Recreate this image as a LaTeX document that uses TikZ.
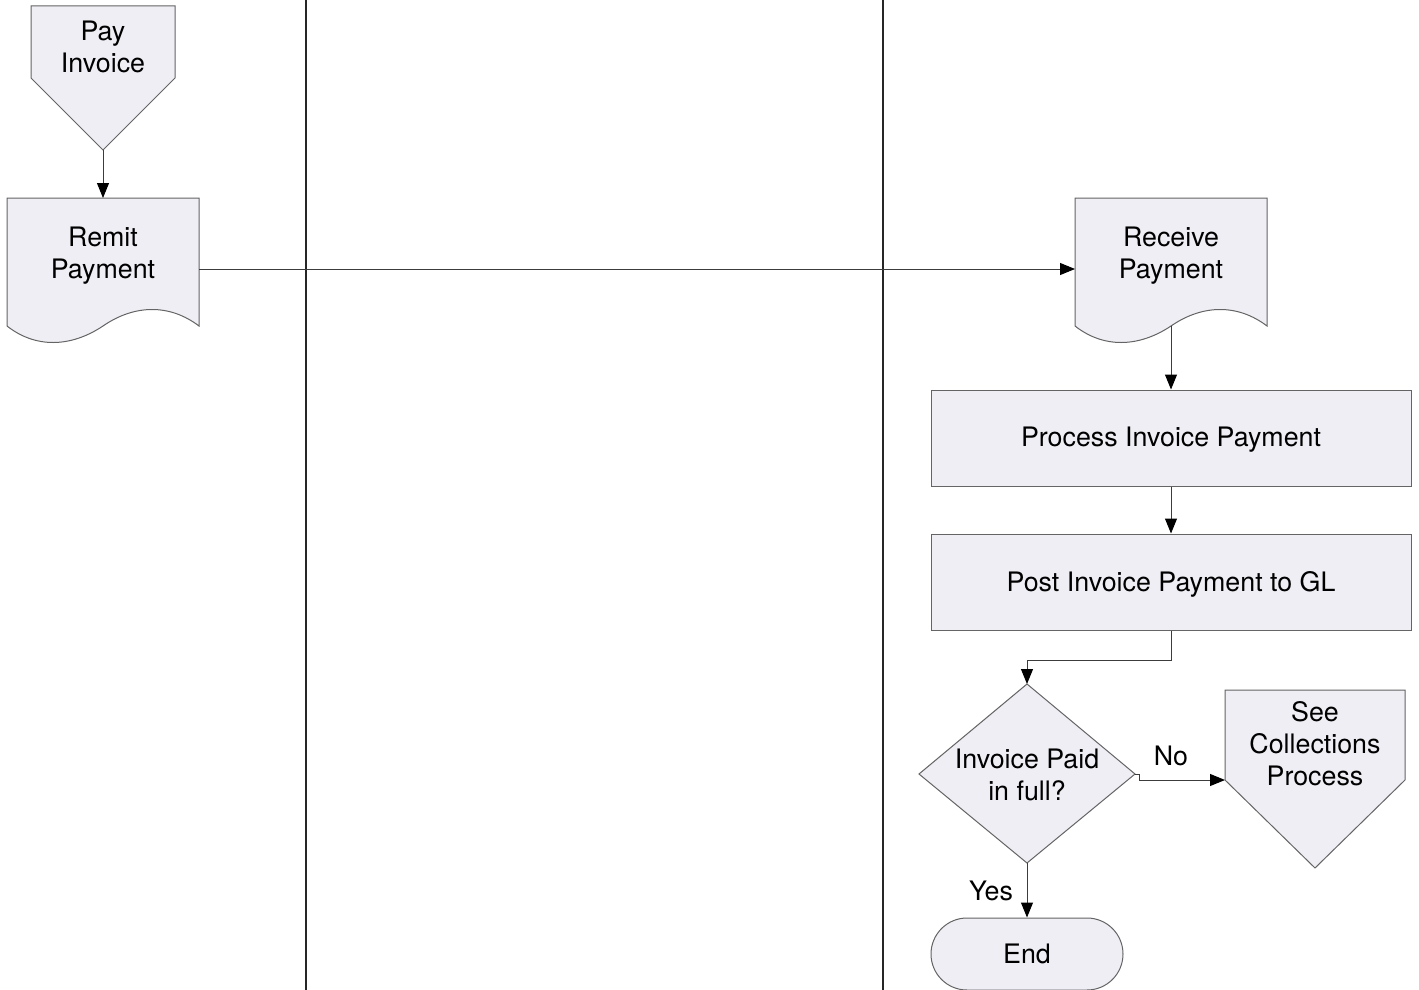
\documentclass[tikz,border=0pt]{standalone}
\usepackage{fontspec}
\setmainfont{TeX Gyre Heros}
\usetikzlibrary{arrows.meta}
\definecolor{shapefill}{RGB}{239,238,244}
\definecolor{shapeline}{RGB}{100,100,100}
\definecolor{connline}{RGB}{60,60,60}
\begin{document}
\begin{tikzpicture}[x=1pt,y=-1pt,
  shp/.style={draw=shapeline,fill=shapefill,line width=1pt,line join=miter},
  lbl/.style={font=\fontsize{26.8}{32}\selectfont,align=center,inner sep=0pt},
  conn/.style={draw=connline,line width=1pt,-{Triangle[length=15pt,width=12pt,color=black,fill=black]}},
  lane/.style={draw=black!85,line width=1.2pt}]
\useasboundingbox (0,0) rectangle (1419,990);

% swimlane separators
\draw[lane] (306,0) -- (306,990);
\draw[lane] (883,0) -- (883,990);

% Pay Invoice (off-page connector)
\draw[shp] (31,6) -- (175,6) -- (175,78) -- (103,150) -- (31,78) -- cycle;
\coordinate (payB) at (103,150);
\node[lbl] (pay) at (103,47) {Pay\\Invoice};

% Remit Payment (document)
\draw[shp] (7,198) -- (199,198) -- (199,326)
  .. controls (170,304) and (135,304) .. (103,326)
  .. controls (70,348) and (35,348) .. (7,326) -- cycle;
\coordinate (remitT) at (103,198);
\coordinate (remitR) at (199,269);
\node[lbl] (remit) at (103,256) {Remit\\Payment};

% Receive Payment (document)
\draw[shp] (1075,198) -- (1267,198) -- (1267,326)
  .. controls (1238,304) and (1203,304) .. (1171,326)
  .. controls (1138,348) and (1103,348) .. (1075,326) -- cycle;
\coordinate (recvL) at (1075,269);
\coordinate (recvB) at (1171,326);
\node[lbl] (recv) at (1171,256) {Receive\\Payment};

% Process boxes
\node[shp,minimum width=480pt,minimum height=96pt] (proc) at (1171,438) {};
\node[lbl] (proct) at (1171,440) {Process Invoice Payment};
\node[shp,minimum width=480pt,minimum height=96pt] (post) at (1171,582) {};
\node[lbl] (postt) at (1171,584) {Post Invoice Payment to GL};

% Decision
\draw[shp] (1027,684) -- (1135,774) -- (1027,863) -- (919,774) -- cycle;
\coordinate (diaT) at (1027,684);
\coordinate (diaR) at (1135,774);
\coordinate (diaB) at (1027,863);
\node[lbl] (dia) at (1027,775) {Invoice Paid\\in full?};

% See Collections Process (off-page connector)
\draw[shp] (1225,690) -- (1405,690) -- (1405,780) -- (1315,868) -- (1225,780) -- cycle;
\coordinate (collL) at (1225,780);
\node[lbl] (coll) at (1315,744) {See\\Collections\\Process};

% End terminator
\node[shp,minimum width=192pt,minimum height=72pt,rounded corners=36pt] (endn) at (1027,954) {};
\node[lbl] (endt) at (1027,954) {End};

% connectors
\draw[conn] (payB) -- (remitT);
\draw[conn] (remitR) -- (recvL);
\draw[conn] (recvB) -- (proc.north);
\draw[conn] (proc.south) -- (post.north);
\draw[conn] (post.south) -- ++(0,30) -| (diaT);
\draw[conn] (diaR) -- ++(4,0) |- (collL);
\draw[conn] (diaB) -- (endn.north);

% labels
\node[lbl] (nolbl) at (1171,756) {No};
\node[lbl] (yeslbl) at (991,891) {Yes};
\end{tikzpicture}
\end{document}
